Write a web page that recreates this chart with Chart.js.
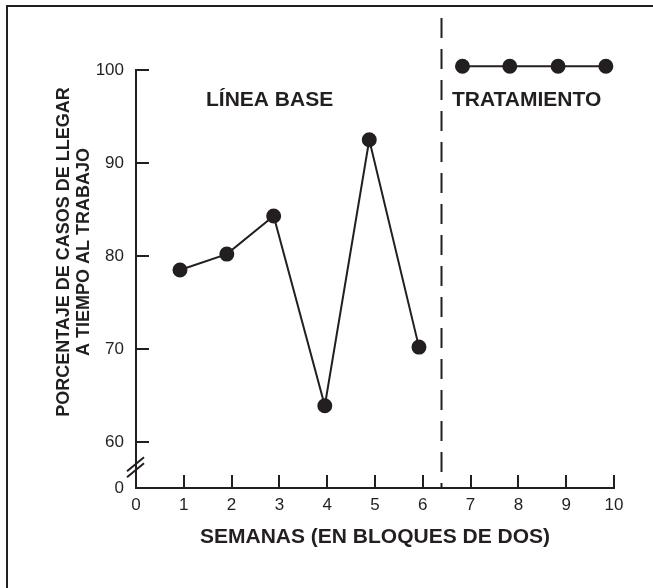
<!DOCTYPE html>
<html>
<head>
<meta charset="utf-8">
<script src="https://cdn.jsdelivr.net/npm/chart.js@4"></script>
<style>
  html, body { margin: 0; padding: 0; background: #fff; }
  #wrap { width: 653px; height: 588px; }
</style>
</head>
<body>
<div id="wrap"><canvas id="chart" width="653" height="588"></canvas></div>
<script>
// datos
const baselineWeeks = [0.92, 1.9, 2.88, 3.95, 4.88, 5.92];
const baselineValues = [78.5, 80.2, 84.3, 63.9, 92.5, 70.2];
const treatmentWeeks = [6.83, 7.82, 8.83, 9.83];
const treatmentValues = [100.4, 100.4, 100.4, 100.4];
const xTicks = [0, 1, 2, 3, 4, 5, 6, 7, 8, 9, 10];
const yTicks = [60, 70, 80, 90, 100];
const yZero = 55.05; // el "0" del eje, tras el corte
const phaseChange = 6.38;
const phaseLabels = ['LÍNEA BASE', 'TRATAMIENTO'];
const xTitle = 'SEMANAS (EN BLOQUES DE DOS)';
const yTitle = ['PORCENTAJE DE CASOS DE LLEGAR', 'A TIEMPO AL TRABAJO'];

const ink = '#231f20';
const family = "'Liberation Sans', Arial, sans-serif";
const tickFont = { family: family, size: 17 };

const toPoints = (xs, ys) => xs.map((x, i) => ({ x: x, y: ys[i] }));

// marcas, corte del eje, línea de fase, títulos
const extras = {
  id: 'extras',
  afterDraw(chart) {
    const { ctx, chartArea } = chart;
    const xs = chart.scales.x, ys = chart.scales.y;
    ctx.save();
    ctx.strokeStyle = ink;
    ctx.lineWidth = 2;
    // marco exterior
    ctx.strokeRect(7, 6, 700, 700);

    // marcas hacia dentro
    ctx.beginPath();
    yTicks.forEach(v => {
      const py = Math.round(ys.getPixelForValue(v));
      ctx.moveTo(chartArea.left, py);
      ctx.lineTo(chartArea.left + 13, py);
    });
    xTicks.slice(1).forEach(v => {
      const px = Math.round(xs.getPixelForValue(v));
      ctx.moveTo(px, chartArea.bottom);
      ctx.lineTo(px, chartArea.bottom - 13);
    });
    ctx.stroke();

    // corte del eje
    const bx = chartArea.left, by = ys.getPixelForValue(57.6);
    ctx.beginPath();
    ctx.moveTo(bx - 9, by + 7); ctx.lineTo(bx + 8, by - 7);
    ctx.moveTo(bx - 9, by + 13); ctx.lineTo(bx + 8, by - 1);
    ctx.stroke();

    // cambio de fase
    const dx = Math.round(xs.getPixelForValue(phaseChange)) + 0.5;
    ctx.setLineDash([20, 11]);
    ctx.beginPath();
    ctx.moveTo(dx, 18);
    ctx.lineTo(dx, chartArea.bottom);
    ctx.stroke();
    ctx.setLineDash([]);

    // textos
    ctx.fillStyle = ink;
    ctx.textBaseline = 'middle';
    ctx.textAlign = 'left';
    ctx.font = 'bold 21px ' + family;
    ctx.fillText(phaseLabels[0], 206, 100);
    ctx.fillText(phaseLabels[1], 452, 100);
    ctx.textAlign = 'center';
    ctx.fillText(xTitle, 375, 537);

    ctx.font = 'bold 18px ' + family;
    ctx.translate(74, 252);
    ctx.rotate(-Math.PI / 2);
    ctx.fillText(yTitle[0], 0, -10);
    ctx.fillText(yTitle[1], 0, 10);
    ctx.restore();
  }
};

new Chart(document.getElementById('chart').getContext('2d'), {
  type: 'line',
  data: {
    datasets: [{
      data: toPoints(baselineWeeks, baselineValues),
      borderColor: ink,
      backgroundColor: ink,
      borderWidth: 2,
      pointRadius: 6.5,
      pointHoverRadius: 6.5,
      tension: 0,
      clip: false
    }, {
      data: toPoints(treatmentWeeks, treatmentValues),
      borderColor: ink,
      backgroundColor: ink,
      borderWidth: 2,
      pointRadius: 6.5,
      pointHoverRadius: 6.5,
      tension: 0,
      clip: false
    }]
  },
  options: {
    responsive: false,
    animation: false,
    layout: { padding: { left: 0, top: 70, right: 39, bottom: 0 } },
    plugins: { legend: { display: false }, tooltip: { enabled: false } },
    scales: {
      x: {
        type: 'linear',
        min: 0,
        max: 10,
        afterBuildTicks: s => { s.ticks = xTicks.map(v => ({ value: v })); },
        afterFit: s => { s.height = 100; },
        grid: { display: true, drawOnChartArea: false, drawTicks: false },
        border: { display: true, color: ink, width: 2 },
        ticks: { color: ink, font: tickFont, padding: 7, maxRotation: 0 }
      },
      y: {
        type: 'linear',
        min: yZero,
        max: 100,
        afterBuildTicks: s => { s.ticks = [yZero].concat(yTicks).map(v => ({ value: v })); },
        afterFit: s => { s.width = 136; },
        grid: { display: true, drawOnChartArea: false, drawTicks: false },
        border: { display: true, color: ink, width: 2 },
        ticks: {
          color: ink,
          font: tickFont,
          padding: 12,
          callback: v => (v < 60 ? '0' : String(v))
        }
      }
    }
  },
  plugins: [extras]
});
</script>
</body>
</html>
